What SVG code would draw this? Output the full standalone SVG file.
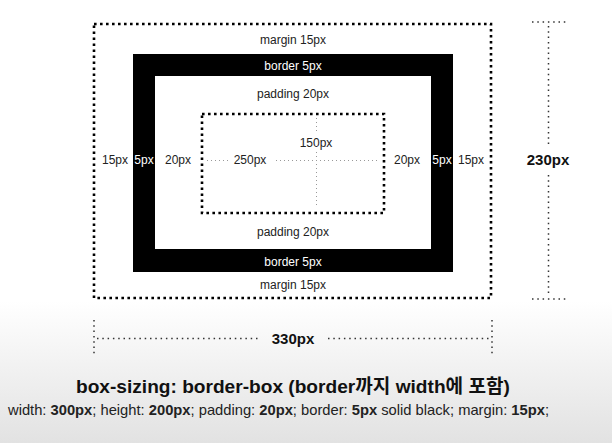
<svg xmlns="http://www.w3.org/2000/svg" width="612" height="443" viewBox="0 0 612 443">
<defs>
<linearGradient id="bg" x1="0" y1="0" x2="0" y2="1">
<stop offset="0" stop-color="#ffffff"/>
<stop offset="0.68" stop-color="#ffffff"/>
<stop offset="1" stop-color="#e2e2e2"/>
</linearGradient>
<style>
text{font-family:"Liberation Sans",Arial,sans-serif;}
.lbl{font-size:12px;fill:#222;text-anchor:middle;}
.wlbl{font-size:12px;fill:#fff;text-anchor:middle;}
.dim{font-size:15px;font-weight:bold;fill:#111;text-anchor:middle;}
.dotbig{fill:none;stroke:#000;stroke-width:2.6;stroke-dasharray:2.6 3.4;}
.dotdim{fill:none;stroke:#333;stroke-width:1.5;stroke-dasharray:1.5 3.8;}
.dotgray{fill:none;stroke:#999;stroke-width:1;stroke-dasharray:1 3;}
</style>
</defs>
<rect width="612" height="443" fill="url(#bg)"/>
<g id="margin-box">
<rect class="dotbig" x="94" y="24" width="397" height="274"/>
<text class="lbl" x="293" y="44">margin 15px</text>
<text class="lbl" x="293" y="289">margin 15px</text>
<text class="lbl" x="115" y="164">15px</text>
<text class="lbl" x="471" y="164">15px</text>
</g>
<g id="border-box">
<rect x="133" y="54" width="320" height="218" fill="#000"/>
<rect x="155" y="76" width="276" height="173" fill="#fff"/>
<text class="wlbl" x="293" y="70">border 5px</text>
<text class="wlbl" x="293" y="266">border 5px</text>
<text class="wlbl" x="144" y="164">5px</text>
<text class="wlbl" x="442" y="164">5px</text>
</g>
<g id="padding-box">
<text class="lbl" x="293" y="98">padding 20px</text>
<text class="lbl" x="293" y="236">padding 20px</text>
<text class="lbl" x="178" y="164">20px</text>
<text class="lbl" x="407" y="164">20px</text>
</g>
<g id="content-box">
<rect class="dotbig" x="202" y="114" width="182" height="99"/>
<text class="lbl" x="250" y="164">250px</text>
<text class="lbl" x="316" y="147">150px</text>
</g>
<g id="connectors">
<line class="dotgray" x1="207" y1="160.5" x2="229" y2="160.5"/>
<line class="dotgray" x1="276" y1="160.5" x2="379" y2="160.5"/>
<line class="dotgray" x1="316.5" y1="118" x2="316.5" y2="132"/>
<line class="dotgray" x1="316.5" y1="152" x2="316.5" y2="208"/>
<line class="dotdim" x1="532" y1="22" x2="567" y2="22"/>
<line class="dotdim" x1="532" y1="299" x2="567" y2="299"/>
<line class="dotdim" x1="548.5" y1="26" x2="548.5" y2="144"/>
<line class="dotdim" x1="548.5" y1="175" x2="548.5" y2="296"/>
<line class="dotdim" x1="94" y1="320" x2="94" y2="354"/>
<line class="dotdim" x1="492" y1="320" x2="492" y2="354"/>
<line class="dotdim" x1="97" y1="338.5" x2="258" y2="338.5"/>
<line class="dotdim" x1="328" y1="338.5" x2="490" y2="338.5"/>
</g>
<g id="dimensions">
<text class="dim" x="548" y="165">230px</text>
<text class="dim" x="293" y="344">330px</text>
</g>
<g id="caption">
<text x="76" y="393" textLength="434" lengthAdjust="spacingAndGlyphs" style="font-size:19px;font-weight:bold;fill:#111;font-family:'Liberation Sans','Noto Sans CJK KR',sans-serif">box-sizing: border-box (border까지 width에 포함)</text>
<text x="8" y="415" textLength="541" lengthAdjust="spacingAndGlyphs" style="font-size:14.5px;fill:#222">width: <tspan font-weight="bold">300px</tspan>; height: <tspan font-weight="bold">200px</tspan>; padding: <tspan font-weight="bold">20px</tspan>; border: <tspan font-weight="bold">5px</tspan> solid black; margin: <tspan font-weight="bold">15px</tspan>;</text>
</g>
</svg>
